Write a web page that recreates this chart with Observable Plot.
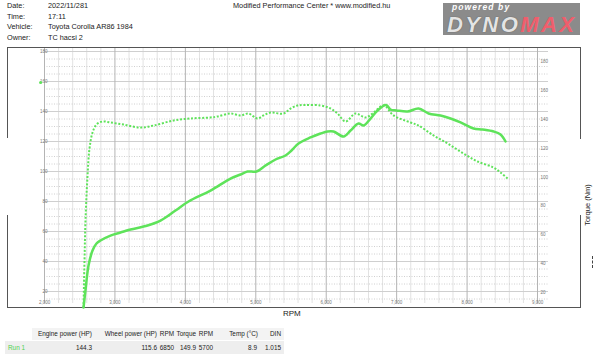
<!DOCTYPE html>
<html><head><meta charset="utf-8">
<script src="https://cdn.jsdelivr.net/npm/d3@7"></script>
<script src="https://cdn.jsdelivr.net/npm/@observablehq/plot@0.6"></script>
<style>
body{margin:0;background:#fff;font-family:"Liberation Sans",Arial,sans-serif;}
#wrap{position:relative;width:600px;height:357px;overflow:hidden;background:#fff;}
.t{position:absolute;font-size:7.3px;color:#222;white-space:nowrap;line-height:1;}
.tb{font-size:6.4px;}
#chart{position:absolute;left:0;top:0;}
.frame{position:absolute;left:7px;top:47px;width:574px;height:261px;border:1px solid #555;box-sizing:border-box;}
.gap{position:absolute;background:#fff;}
.logo{position:absolute;left:443px;top:3px;width:137px;height:32px;background:#8b8b8b;}
.bg{position:absolute;background:#f3f3f3;}
</style></head>
<body><div id="wrap"></div>
<script>
// ---- data ----
const headerLabels = ["Date:", "Time:", "Vehicle:", "Owner:"];
const headerValues = ["2022/11/281", "17:11", "Toyota Corolla AR86 1984", "TC hacsi 2"];
const shopTitle = "Modified Performance Center * www.modified.hu";

const powerRpm = [2554,2582,2625,2682,2738,2795,2937,3079,3221,3463,3647,3860,4045,4357,4641,4783,4883,5010,5138,5280,5422,5507,5607,5777,5919,6019,6104,6246,6345,6459,6530,6629,6729,6850,6913,7000,7155,7311,7453,7623,7765,7907,8092,8220,8376,8475,8546];
const powerHp  = [9.3,20.7,37.3,47.3,52,54,57.3,59.3,61.3,64,67.3,74,80,87.3,95.3,98,100,100,104,108,110.7,114,118.7,122.7,125.3,126.7,126.7,123.3,127.3,132,130.7,135.3,140.7,144.3,141.3,140.7,140,142,138.7,137.3,135.3,132.7,128.7,128,126.7,124.7,120];

const torqueRpm = [2554,2568,2582,2611,2639,2682,2738,2824,2937,3122,3363,3548,3832,4073,4357,4457,4641,4783,4897,5025,5110,5209,5394,5493,5593,5700,5919,6061,6161,6274,6416,6558,6658,6814,6956,7197,7311,7524,7723,7950,8149,8376,8475,8575];
const torqueNm  = [9.7,42.2,70,101,119.8,130.9,136.4,138.5,137.8,136.4,134.3,135.7,139.2,140.6,141.3,142,144,142.7,144,140.6,142.7,144.7,144,147.5,149.6,149.9,149.6,147.5,144,138.5,144,141.3,144,149.7,142.7,137.8,135.7,128.8,123.3,116.3,110.8,106.6,103.2,99];
const strayRpm = [1945];
const strayNm = [165.5];

const rpmTicks = [2000,3000,4000,5000,6000,7000,8000,9000];
const hpTicks = [20,40,60,80,100,120,140,160,180];
const nmTicks = [20,40,60,80,100,120,140,160,180];

const tableHeader = ["Engine power (HP)", "Wheel power (HP)", "RPM", "Torque", "RPM", "Temp (°C)", "DIN"];
const runLabel = "Run 1";
const runValues = ["144.3", "115.6", "6850", "149.9", "5700", "8.9", "1.015"];

// ---- build ----
const NM_RATIO = 1.444 / 1.5; // torque axis relative to power axis
const GREEN = "#5ee35a";
const power = powerRpm.map((r, i) => ({rpm: r, v: powerHp[i]}));
const torque = torqueRpm.map((r, i) => ({rpm: r, v: torqueNm[i] * NM_RATIO}));
const stray = strayRpm.map((r, i) => ({rpm: r, v: strayNm[i] * NM_RATIO}));
const minor = d3.range(2000, 9001, 200).filter(d => d % 1000 !== 0);
const dotted = d3.range(15, 181, 5).filter(d => d % 20 !== 0);

const wrap = document.getElementById("wrap");
const add = (html) => wrap.insertAdjacentHTML("beforeend", html);

add(`<div class="frame"></div>`);
add(`<div class="gap" style="left:5px;top:138px;width:4px;height:77px"></div>`);
add(`<div class="gap" style="left:578px;top:139px;width:4px;height:76px"></div>`);

const chart = Plot.plot({
  width: 600, height: 357,
  marginLeft: 44, marginRight: 52, marginTop: 48, marginBottom: 54,
  x: {domain: [2000, 9156]},
  y: {domain: [12, 182]},
  style: {fontFamily: "Liberation Sans, Arial, sans-serif", background: "transparent"},
  marks: [
    Plot.ruleX(minor, {stroke: "#e2e2e2", strokeWidth: 1}),
    Plot.ruleY(dotted, {stroke: "#c4c4c4", strokeDasharray: "1,1.5", strokeWidth: 0.8}),
    Plot.ruleY(hpTicks, {stroke: "#cfcfcf", strokeWidth: 1}),
    Plot.ruleX(rpmTicks, {stroke: "#b4b4b4", strokeWidth: 1}),
    Plot.axisX({ticks: rpmTicks, tickFormat: d3.format(","), tickSize: 0, tickPadding: -3, fontSize: 4.5, color: "#777", label: null}),
    Plot.axisY({ticks: hpTicks, anchor: "left", tickSize: 0, tickPadding: -3, fontSize: 4.5, color: "#777", label: null}),
    Plot.axisY(nmTicks.map(n => n * NM_RATIO), {anchor: "right", tickFormat: v => String(Math.round(v / NM_RATIO)), tickSize: 0, tickPadding: -8, fontSize: 4.5, color: "#777", label: null}),
    Plot.line(torque, {x: "rpm", y: "v", stroke: GREEN, strokeWidth: 2, strokeDasharray: "2,1.7", strokeLinecap: "butt", strokeLinejoin: "miter", curve: "catmull-rom"}),
    Plot.line(power, {x: "rpm", y: "v", stroke: GREEN, strokeWidth: 2.5, curve: "catmull-rom"}),
    Plot.dot(stray, {x: "rpm", y: "v", r: 1.6, fill: GREEN})
  ]
});
chart.id = "chart";
wrap.appendChild(chart);

// header
const rowTops = [2, 12.5, 23, 33.5];
headerLabels.forEach((l, i) => add(`<div class="t" style="left:7px;top:${rowTops[i]}px">${l}</div>`));
headerValues.forEach((v, i) => add(`<div class="t" style="left:48px;top:${rowTops[i]}px">${v}</div>`));
add(`<div class="t" style="left:233px;top:2px">${shopTitle}</div>`);

// logo
add(`<div class="logo">
  <div style="position:absolute;left:9px;top:-0.5px;font:italic bold 8.5px 'Liberation Sans',Arial;line-height:1;color:#fff;letter-spacing:1.1px;white-space:nowrap">powered by</div>
  <div style="position:absolute;left:4px;top:12.5px;font:italic bold 22px 'Liberation Sans',Arial;letter-spacing:2.4px;line-height:0.78;white-space:nowrap"><span style="color:#e4e4e4;text-shadow:0 0 1px #444">DYNO</span><span style="color:#ef5e6c">MAX</span></div>
</div>`);

// axis titles
add(`<div class="t" style="left:283px;top:310px;font-size:8px">RPM</div>`);
add(`<div class="t" style="left:588px;top:205px;font-size:7.5px;transform:translate(-50%,-50%) rotate(-90deg)">Torque (Nm)</div>`);
add(`<div style="position:absolute;left:592px;top:256px;width:0;height:12px;border-left:1.5px dashed #444"></div>`);

// table
add(`<div class="bg" style="left:32px;top:328px;width:252px;height:12px"></div>`);
add(`<div class="bg" style="left:5px;top:341px;width:279px;height:13px;background:#eeeeee"></div>`);
const hdrEnds = [92, 157, 174, 196, 213, 258, 281];
const valEnds = [92, 157, 174, 196, 213, 257, 281];
tableHeader.forEach((h, i) => add(`<div class="t tb" style="right:${600 - hdrEnds[i]}px;top:331px">${h}</div>`));
add(`<div class="t tb" style="left:8px;top:344.5px;color:#4fd24f">${runLabel}</div>`);
runValues.forEach((v, i) => add(`<div class="t tb" style="right:${600 - valEnds[i]}px;top:344.5px">${v}</div>`));
</script>
</body></html>
